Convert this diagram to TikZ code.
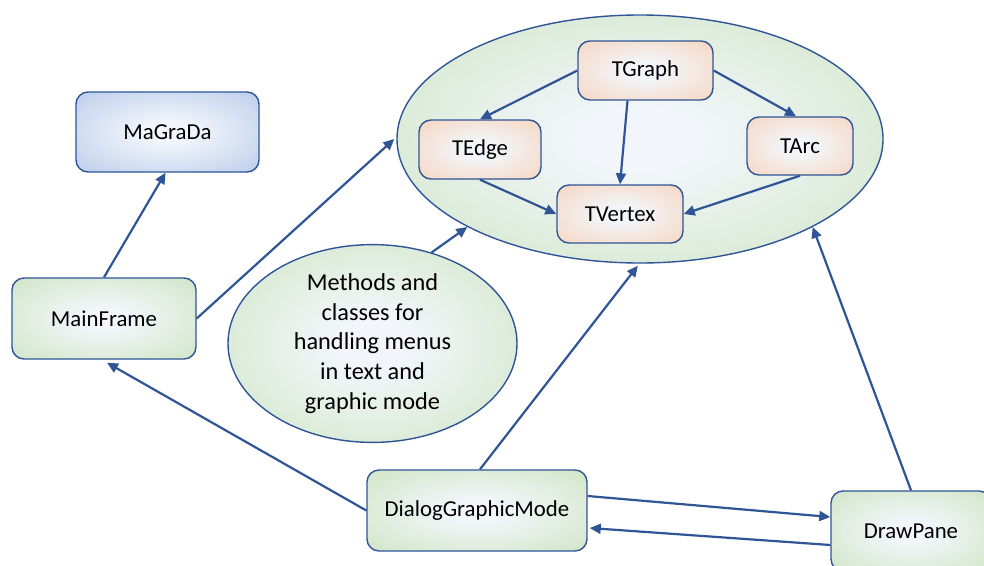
\documentclass[tikz,border=0pt]{standalone}
\usepackage{fontspec}
\setmainfont{Carlito}
\usetikzlibrary{arrows.meta,shapes.geometric}
\definecolor{cin}{HTML}{F2F6FB}
\definecolor{gout}{HTML}{C5E0B4}
\definecolor{oout}{HTML}{F8CBAD}
\definecolor{bout}{HTML}{A9BFE6}
\definecolor{edgeblue}{HTML}{2F5597}
\pgfdeclareradialshading{gshade}{\pgfpoint{0bp}{0bp}}{color(0bp)=(cin); color(6bp)=(cin); color(46bp)=(gout); color(100bp)=(gout)}
\pgfdeclareradialshading{oshade}{\pgfpoint{0bp}{0bp}}{color(0bp)=(cin); color(6bp)=(cin); color(46bp)=(oout); color(100bp)=(oout)}
\pgfdeclareradialshading{bshade}{\pgfpoint{0bp}{0bp}}{color(0bp)=(cin); color(6bp)=(cin); color(46bp)=(bout); color(100bp)=(bout)}
\begin{document}
\begin{tikzpicture}[x=1pt,y=-1pt,
  box/.style={draw=edgeblue, line width=1.4pt, rounded corners=12pt, inner sep=0pt,
    font=\fontsize{22.8}{27}\selectfont},
  gbox/.style={box, shading=gshade},
  obox/.style={box, shading=oshade},
  bbox/.style={box, shading=bshade},
  ell/.style={ellipse, draw=edgeblue, line width=1.4pt, inner sep=0pt, shading=gshade},
  arr/.style={draw=edgeblue, line width=2.2pt, -{Triangle[length=11pt,width=10pt]}}]
\useasboundingbox (0,0) rectangle (984,565);
\fill[white] (0,0) rectangle (984,565);
% big ellipse
\node[ell, minimum width=486pt, minimum height=248pt] (big) at (640,139) {};
% small ellipse
\node[ell, minimum width=289pt, minimum height=169pt, align=center,
  font=\fontsize{24.3}{29.7}\selectfont] (sm) at (372.5,343.5)
  {Methods and\\classes for\\handling menus\\in text and\\graphic mode};
% boxes
\node[bbox, minimum width=183pt, minimum height=80pt] (mg) at (167.5,132) {MaGraDa};
\node[gbox, minimum width=184pt, minimum height=81pt] (mf) at (104,318.5) {MainFrame};
\node[gbox, minimum width=220pt, minimum height=81pt] (dgm) at (477,510.5) {DialogGraphicMode};
\node[gbox, minimum width=160pt, minimum height=80pt] (dp) at (911,531) {DrawPane};
\node[obox, minimum width=135pt, minimum height=59pt] (tg) at (645.5,70.5) {TGraph};
\node[obox, minimum width=122pt, minimum height=59pt] (te) at (480,149.5) {TEdge};
\node[obox, minimum width=106pt, minimum height=58pt] (ta) at (800,146) {TArc};
\node[obox, minimum width=126pt, minimum height=58pt] (tv) at (620,214) {TVertex};
% inner arrows
\draw[arr] (tg.west) -- (te.north);
\draw[arr] ([xshift=-18pt]tg.south) -- (tv.north);
\draw[arr] (tg.east) -- ([xshift=-4pt]ta.north);
\draw[arr] (te.south) -- (tv.west);
\draw[arr] (ta.south) -- (tv.east);
% outer arrows
\draw[arr] (mf.north) -- ([xshift=-2pt]mg.south);
\draw[arr] (mf.east) -- ([xshift=-2pt]big.west);
\draw[arr] (sm.57) -- (big.207);
\draw[arr] ([xshift=3pt]dgm.north) -- ([yshift=-2pt]big.269);
\draw[arr] (dp.north) -- (big.333);
\draw[arr] (dgm.west) -- ([xshift=3pt,yshift=-3pt]mf.south);
\draw[arr] ([yshift=14.5pt]dgm.east) -- ([yshift=14pt]dp.west);
\draw[arr] ([yshift=-14pt]dp.west) -- ([xshift=2pt,yshift=-17.5pt]dgm.east);
\end{tikzpicture}
\end{document}
